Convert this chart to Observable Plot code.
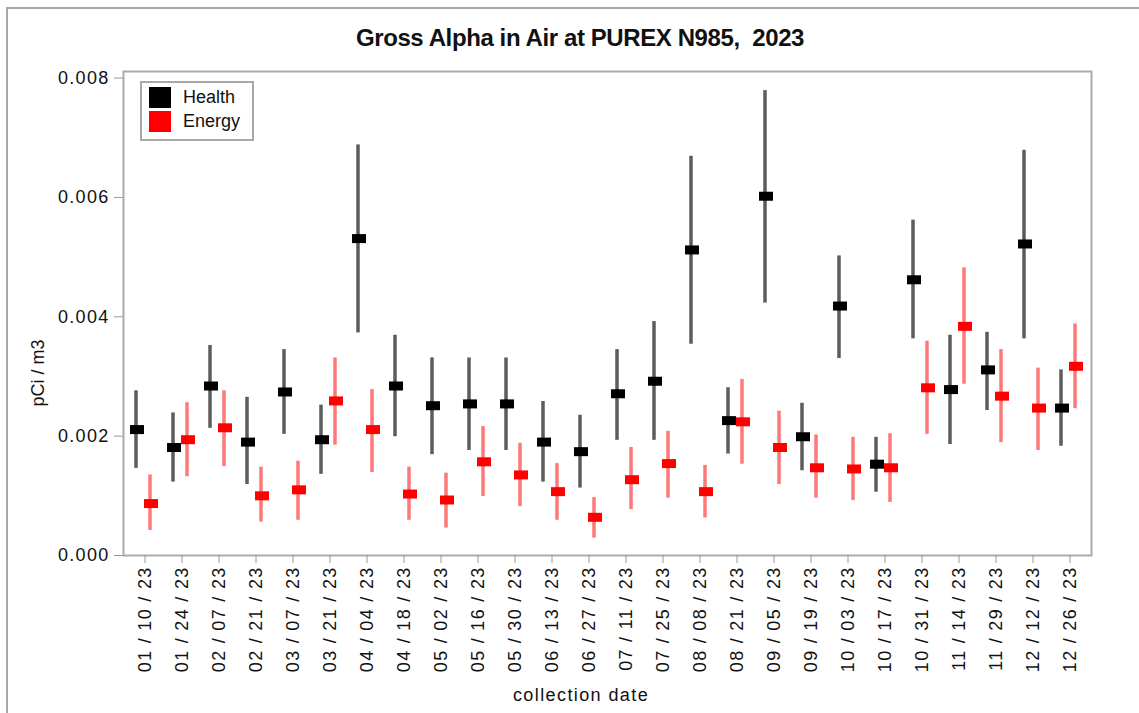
<!DOCTYPE html>
<html>
<head>
<meta charset="utf-8">
<script src="https://cdn.jsdelivr.net/npm/d3@7"></script>
<script src="https://cdn.jsdelivr.net/npm/@observablehq/plot@0.6"></script>
<style>
  body { margin: 0; background: #fff; font-family: "Liberation Sans", Arial, sans-serif; color: #111; }
  #wrap { position: relative; width: 1139px; height: 713px; overflow: hidden; background: #fff; }
  #border { position: absolute; left: 6px; top: 7px; width: 1300px; height: 900px; border-top: 2px solid #a8a8a8; border-left: 2px solid #a8a8a8; }
  #chart { position: absolute; left: 0; top: 0; }
  #title { position: absolute; left: 0; width: 1160px; top: 24px; text-align: center; font-weight: bold; font-size: 24px; letter-spacing: -0.4px; line-height: 28px; }
  #ylabel { position: absolute; left: 38px; top: 373px; transform: translate(-50%, -50%) rotate(-90deg); font-size: 18px; white-space: nowrap; }
  #xlabel { position: absolute; left: 581px; top: 695px; transform: translate(-50%, -50%); font-size: 18px; letter-spacing: 1.4px; white-space: nowrap; }
  #legend { position: absolute; left: 140px; top: 81px; width: 110px; height: 56px; border: 2px solid #a8a8a8; background: #fff; }
  .lg-item { position: absolute; left: 7px; height: 21px; line-height: 21px; font-size: 18px; white-space: nowrap; }
  .lg-sw { display: inline-block; width: 22px; height: 21px; vertical-align: top; margin-right: 12px; }
</style>
</head>
<body>
<div id="wrap">
  <div id="border"></div>
  <div id="chart"></div>
  <div id="title">Gross Alpha in Air at PUREX N985,&nbsp; 2023</div>
  <div id="ylabel">pCi / m3</div>
  <div id="xlabel">collection date</div>
  <div id="legend"></div>
</div>
<script>
const dates = ["01 / 10 / 23","01 / 24 / 23","02 / 07 / 23","02 / 21 / 23","03 / 07 / 23","03 / 21 / 23",
  "04 / 04 / 23","04 / 18 / 23","05 / 02 / 23","05 / 16 / 23","05 / 30 / 23","06 / 13 / 23","06 / 27 / 23",
  "07 / 11 / 23","07 / 25 / 23","08 / 08 / 23","08 / 21 / 23","09 / 05 / 23","09 / 19 / 23","10 / 03 / 23",
  "10 / 17 / 23","10 / 31 / 23","11 / 14 / 23","11 / 29 / 23","12 / 12 / 23","12 / 26 / 23"];

const seriesNames = ["Health", "Energy"];
const seriesColors = ["#000000", "#ff0000"];
const barColors = ["#5c5c5c", "#ff7878"];

const healthVal = [0.00211,0.00181,0.00284,0.00190,0.00274,0.00194,0.00531,0.00284,0.00251,0.00254,0.00254,0.00190,0.00174,
  0.00271,0.00292,0.00512,0.00226,0.00602,0.00199,0.00418,0.00153,0.00462,0.00278,0.00311,0.00522,0.00247];
const healthHi = [0.00276,0.00239,0.00352,0.00265,0.00345,0.00252,0.00688,0.00369,0.00331,0.00331,0.00331,0.00258,0.00235,
  0.00345,0.00392,0.00669,0.00281,0.00779,0.00255,0.00502,0.00198,0.00562,0.00369,0.00374,0.00679,0.00311];
const healthLo = [0.00146,0.00123,0.00213,0.00119,0.00203,0.00136,0.00373,0.00199,0.00169,0.00176,0.00176,0.00123,0.00113,
  0.00193,0.00193,0.00354,0.00170,0.00423,0.00142,0.00330,0.00106,0.00363,0.00186,0.00243,0.00363,0.00183];

const energyVal = [0.00087,0.00194,0.00214,0.00100,0.00110,0.00259,0.00211,0.00103,0.00093,0.00157,0.00135,0.00107,0.00064,
  0.00127,0.00154,0.00107,0.00224,0.00181,0.00147,0.00145,0.00147,0.00281,0.00384,0.00267,0.00247,0.00317];
const energyHi = [0.00135,0.00256,0.00276,0.00148,0.00158,0.00331,0.00278,0.00148,0.00138,0.00216,0.00188,0.00154,0.00097,
  0.00181,0.00208,0.00151,0.00295,0.00242,0.00202,0.00198,0.00204,0.00359,0.00482,0.00345,0.00314,0.00388];
const energyLo = [0.00042,0.00132,0.00149,0.00056,0.00059,0.00185,0.00139,0.00059,0.00046,0.00099,0.00082,0.00059,0.00029,
  0.00077,0.00096,0.00063,0.00153,0.00119,0.00096,0.00092,0.00089,0.00203,0.00287,0.00189,0.00176,0.00246];

const yTicks = [0, 0.002, 0.004, 0.006, 0.008];

const health = dates.map((d, i) => ({date: d, v: healthVal[i], lo: healthLo[i], hi: healthHi[i]}));
const energy = dates.map((d, i) => ({date: d, v: energyVal[i], lo: energyLo[i], hi: energyHi[i]}));

const chart = Plot.plot({
  width: 1139,
  height: 713,
  marginLeft: 123,
  marginRight: 48,
  marginTop: 71,
  marginBottom: 158,
  style: {fontFamily: "'Liberation Sans', Arial, sans-serif", fontSize: "18px", background: "transparent", color: "#111"},
  x: {type: "band", domain: dates, paddingInner: 0, paddingOuter: 0.04},
  y: {domain: [0, 0.00811]},
  marks: [
    Plot.frame({stroke: "#ababab", strokeWidth: 2}),
    Plot.axisY({ticks: yTicks, tickFormat: d3.format(".3f"), tickSize: 9, tickPadding: 5, stroke: "#9a9a9a", fill: "#111", label: null}),
    Plot.axisX({tickRotate: -90, tickSize: 8, tickPadding: 3, stroke: "#9a9a9a", fill: "#111", label: null}),
    Plot.ruleX(health, {x: "date", y1: "lo", y2: "hi", dx: -9, stroke: barColors[0], strokeWidth: 3.5}),
    Plot.ruleX(energy, {x: "date", y1: "lo", y2: "hi", dx: 5, stroke: barColors[1], strokeWidth: 3.5}),
    Plot.tickY(health, {x: "date", y: "v", stroke: seriesColors[0], strokeWidth: 9, insetLeft: 4, insetRight: 19}),
    Plot.tickY(energy, {x: "date", y: "v", stroke: seriesColors[1], strokeWidth: 9, insetLeft: 18, insetRight: 5})
  ]
});
d3.select(chart).selectAll("g[aria-label='x-axis tick label'] text, g[aria-label='y-axis tick label'] text")
  .style("letter-spacing", "1.3px");
document.getElementById("chart").appendChild(chart);

const legend = document.getElementById("legend");
seriesNames.forEach((name, i) => {
  const item = document.createElement("div");
  item.className = "lg-item";
  item.style.top = (4 + i * 24) + "px";
  item.innerHTML = `<span class="lg-sw" style="background:${seriesColors[i]}"></span>${name}`;
  legend.appendChild(item);
});
</script>
</body>
</html>
